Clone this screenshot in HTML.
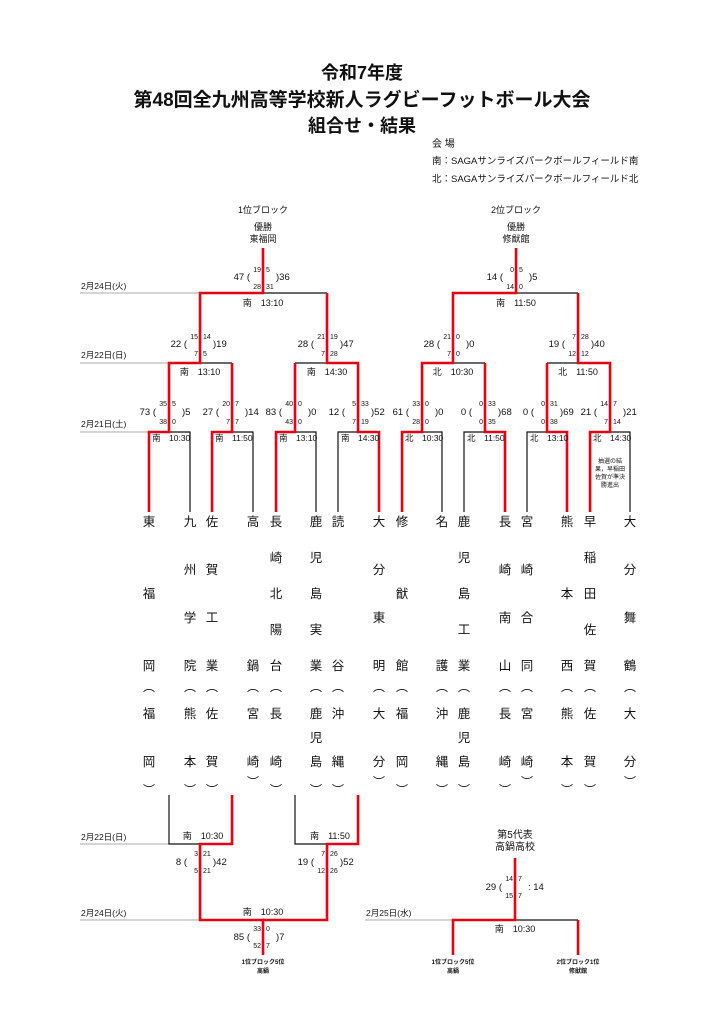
<!DOCTYPE html>
<html><head><meta charset="utf-8"><style>
body{margin:0;background:#fff;}
#p{position:relative;width:724px;height:1024px;overflow:hidden;font-family:"Liberation Sans","Noto Sans CJK JP",sans-serif;color:#111;}
svg{position:absolute;left:0;top:0;}
.c{position:absolute;width:20px;margin-left:-10px;display:flex;flex-direction:column;justify-content:space-between;align-items:center;font-size:12.5px;line-height:16px;}
.n{top:514px;height:160px;}
.pf{top:706px;height:64px;}
.o{position:absolute;width:20px;margin-left:-10px;text-align:center;font-size:12px;line-height:12px;}
</style></head><body><div id="p">
<svg width="724" height="1024" font-family="Liberation Sans, Noto Sans CJK JP, sans-serif">
<g font-weight="bold" text-anchor="middle" fill="#111">
<text x="362" y="79" font-size="18">令和7年度</text>
<text x="362" y="106" font-size="19">第48回全九州高等学校新人ラグビーフットボール大会</text>
<text x="362" y="132" font-size="18">組合せ・結果</text>
</g>
<g font-size="10" fill="#111">
<text x="432" y="147">会  場</text>
<text x="432" y="164" font-size="9.5">南：SAGAサンライズパークボールフィールド南</text>
<text x="432" y="182" font-size="9.5">北：SAGAサンライズパークボールフィールド北</text>
</g>
<g font-size="9" text-anchor="middle" fill="#111">
<text x="263" y="213">1位ブロック</text>
<text x="263" y="230">優勝</text><text x="263" y="242">東福岡</text>
<text x="516" y="213">2位ブロック</text>
<text x="516" y="230">優勝</text><text x="516" y="242">修猷館</text>
</g>
<!-- date lines -->
<g stroke="#aaa" stroke-width="1">
<line x1="80" y1="293" x2="200" y2="293"/>
<line x1="80" y1="363" x2="169" y2="363"/>
<line x1="80" y1="432" x2="149" y2="432"/>
<line x1="80" y1="844" x2="169" y2="844"/>
<line x1="80" y1="920" x2="200" y2="920"/>
<line x1="365" y1="920" x2="453" y2="920"/>
</g>
<g font-size="8.5" fill="#111">
<text x="81" y="289">2月24日(火)</text>
<text x="81" y="358">2月22日(日)</text>
<text x="81" y="427">2月21日(土)</text>
<text x="81" y="840">2月22日(日)</text>
<text x="81" y="916">2月24日(火)</text>
<text x="366" y="916">2月25日(水)</text>
</g>
<!-- black skeleton -->
<g stroke="#111" stroke-width="1.2" fill="none">
<path d="M149,512V432H190V512 M212,512V432H253V512 M276,512V432H316V512 M338,512V432H379V512"/>
<path d="M402,512V432H442V512 M464,512V432H505V512 M527,512V432H567V512 M590,512V432H630V512"/>
<path d="M169,363H232 M295,363H358 M422,363H485 M547,363H610 M200,293H327 M453,293H578"/>
<path d="M169,795V844H232 M295,795V844H358 M200,920H327 M453,920H578"/>
</g>
<!-- red winners -->
<g stroke="#e60012" stroke-width="2.6" fill="none">
<path d="M149,512V432H169V363H200V293H263V248"/>
<path d="M212,512V432H232V363"/>
<path d="M276,512V432H295V363"/>
<path d="M379,512V432H358V363H327V293"/>
<path d="M402,512V432H422V363H453V293H516V248"/>
<path d="M505,512V432H485V363"/>
<path d="M567,512V432H547V363"/>
<path d="M590,512V432H610V363H578V293"/>
<path d="M232,795V844H200V920H263V955"/>
<path d="M358,795V844H327V920H263"/>
<path d="M515,858V920H453V955 M578,920V955"/>
</g>
<!-- venue labels -->
<g font-size="9" fill="#111" text-anchor="middle">
<text x="263" y="306">南　13:10</text>
<text x="516" y="306">南　11:50</text>
<text x="200" y="375">南　13:10</text>
<text x="327" y="375">南　14:30</text>
<text x="453" y="375">北　10:30</text>
<text x="578" y="375">北　11:50</text>
<text x="203" y="839">南　10:30</text>
<text x="330" y="839">南　11:50</text>
<text x="263" y="915">南　10:30</text>
<text x="515" y="932">南　10:30</text>
</g>
<g font-size="8.5" fill="#111">
<text x="152" y="441">南　10:30</text>
<text x="215" y="441">南　11:50</text>
<text x="279" y="441">南　13:10</text>
<text x="341" y="441">南　14:30</text>
<text x="405" y="441">北　10:30</text>
<text x="467" y="441">北　11:50</text>
<text x="530" y="441">北　13:10</text>
<text x="593" y="441">北　14:30</text>
</g>
<g font-size="6" fill="#111" text-anchor="middle">
<text x="610" y="463">抽選の結</text><text x="610" y="471">果，早稲田</text><text x="610" y="479">佐賀が準決</text><text x="610" y="487">勝進出</text>
</g>
<!-- scores -->
<g fill="#111" font-size="9.5">
<g text-anchor="end">
<text x="156" y="415">73 (</text><text x="219" y="415">27 (</text><text x="282" y="415">83 (</text><text x="345" y="415">12 (</text>
<text x="409" y="415">61 (</text><text x="472" y="415">0 (</text><text x="534" y="415">0 (</text><text x="597" y="415">21 (</text>
<text x="187" y="347">22 (</text><text x="314" y="347">28 (</text><text x="440" y="347">28 (</text><text x="565" y="347">19 (</text>
<text x="250" y="280">47 (</text><text x="503" y="280">14 (</text>
<text x="187" y="865">8 (</text><text x="314" y="865">19 (</text><text x="250" y="940">85 (</text><text x="502" y="890">29 (</text>
</g>
<text x="182" y="415">)5</text><text x="245" y="415">)14</text><text x="308" y="415">)0</text><text x="371" y="415">)52</text>
<text x="435" y="415">)0</text><text x="498" y="415">)68</text><text x="560" y="415">)69</text><text x="623" y="415">)21</text>
<text x="213" y="347">)19</text><text x="340" y="347">)47</text><text x="466" y="347">)0</text><text x="591" y="347">)40</text>
<text x="276" y="280">)36</text><text x="529" y="280">)5</text>
<text x="213" y="865">)42</text><text x="340" y="865">)52</text><text x="276" y="940">)7</text><text x="528" y="890">: 14</text>
</g>
<g fill="#111" font-size="7">
<g text-anchor="end">
<text x="167" y="406">35</text><text x="167" y="424">38</text><text x="230" y="406">20</text><text x="230" y="424">7</text>
<text x="293" y="406">40</text><text x="293" y="424">43</text><text x="356" y="406">5</text><text x="356" y="424">7</text>
<text x="420" y="406">33</text><text x="420" y="424">28</text><text x="483" y="406">0</text><text x="483" y="424">0</text>
<text x="545" y="406">0</text><text x="545" y="424">0</text><text x="608" y="406">14</text><text x="608" y="424">7</text>
<text x="198" y="339">15</text><text x="198" y="356">7</text><text x="325" y="339">21</text><text x="325" y="356">7</text>
<text x="451" y="339">21</text><text x="451" y="356">7</text><text x="576" y="339">7</text><text x="576" y="356">12</text>
<text x="261" y="272">19</text><text x="261" y="289">28</text><text x="514" y="272">0</text><text x="514" y="289">14</text>
<text x="198" y="856">3</text><text x="198" y="873">5</text><text x="325" y="856">7</text><text x="325" y="873">12</text>
<text x="261" y="931">33</text><text x="261" y="948">52</text><text x="513" y="881">14</text><text x="513" y="898">15</text>
</g>
<text x="172" y="406">5</text><text x="172" y="424">0</text><text x="235" y="406">7</text><text x="235" y="424">7</text>
<text x="298" y="406">0</text><text x="298" y="424">0</text><text x="361" y="406">33</text><text x="361" y="424">19</text>
<text x="425" y="406">0</text><text x="425" y="424">0</text><text x="488" y="406">33</text><text x="488" y="424">35</text>
<text x="550" y="406">31</text><text x="550" y="424">38</text><text x="613" y="406">7</text><text x="613" y="424">14</text>
<text x="203" y="339">14</text><text x="203" y="356">5</text><text x="330" y="339">19</text><text x="330" y="356">28</text>
<text x="456" y="339">0</text><text x="456" y="356">0</text><text x="581" y="339">28</text><text x="581" y="356">12</text>
<text x="266" y="272">5</text><text x="266" y="289">31</text><text x="519" y="272">5</text><text x="519" y="289">0</text>
<text x="203" y="856">21</text><text x="203" y="873">21</text><text x="330" y="856">26</text><text x="330" y="873">26</text>
<text x="266" y="931">0</text><text x="266" y="948">7</text><text x="518" y="881">7</text><text x="518" y="898">7</text>
</g>
<g font-size="10" text-anchor="middle" fill="#111">
<text x="515" y="838">第5代表</text><text x="515" y="850">高鍋高校</text>
</g>
<g font-size="6" font-weight="bold" text-anchor="middle" fill="#111">
<text x="263" y="964">1位ブロック5位</text><text x="263" y="973">高鍋</text>
<text x="453" y="964">1位ブロック5位</text><text x="453" y="973">高鍋</text>
<text x="578" y="964">2位ブロック1位</text><text x="578" y="973">修猷館</text>
</g>
</svg>
<!-- team names -->
<div class="c n" style="left:149px"><span>東</span><span>福</span><span>岡</span></div>
<div class="c n" style="left:190px"><span>九</span><span>州</span><span>学</span><span>院</span></div>
<div class="c n" style="left:212px"><span>佐</span><span>賀</span><span>工</span><span>業</span></div>
<div class="c n" style="left:253px"><span>高</span><span>鍋</span></div>
<div class="c n" style="left:276px"><span>長</span><span>崎</span><span>北</span><span>陽</span><span>台</span></div>
<div class="c n" style="left:316px"><span>鹿</span><span>児</span><span>島</span><span>実</span><span>業</span></div>
<div class="c n" style="left:338px"><span>読</span><span>谷</span></div>
<div class="c n" style="left:379px"><span>大</span><span>分</span><span>東</span><span>明</span></div>
<div class="c n" style="left:402px"><span>修</span><span>猷</span><span>館</span></div>
<div class="c n" style="left:442px"><span>名</span><span>護</span></div>
<div class="c n" style="left:464px"><span>鹿</span><span>児</span><span>島</span><span>工</span><span>業</span></div>
<div class="c n" style="left:505px"><span>長</span><span>崎</span><span>南</span><span>山</span></div>
<div class="c n" style="left:527px"><span>宮</span><span>崎</span><span>合</span><span>同</span></div>
<div class="c n" style="left:567px"><span>熊</span><span>本</span><span>西</span></div>
<div class="c n" style="left:590px"><span>早</span><span>稲</span><span>田</span><span>佐</span><span>賀</span></div>
<div class="c n" style="left:630px"><span>大</span><span>分</span><span>舞</span><span>鶴</span></div>
<!-- prefectures -->
<div class="c pf" style="left:149px"><span>福</span><span>岡</span></div>
<div class="c pf" style="left:190px"><span>熊</span><span>本</span></div>
<div class="c pf" style="left:212px"><span>佐</span><span>賀</span></div>
<div class="c pf" style="left:253px"><span>宮</span><span>崎</span></div>
<div class="c pf" style="left:276px"><span>長</span><span>崎</span></div>
<div class="c pf" style="left:316px"><span>鹿</span><span>児</span><span>島</span></div>
<div class="c pf" style="left:338px"><span>沖</span><span>縄</span></div>
<div class="c pf" style="left:379px"><span>大</span><span>分</span></div>
<div class="c pf" style="left:402px"><span>福</span><span>岡</span></div>
<div class="c pf" style="left:442px"><span>沖</span><span>縄</span></div>
<div class="c pf" style="left:464px"><span>鹿</span><span>児</span><span>島</span></div>
<div class="c pf" style="left:505px"><span>長</span><span>崎</span></div>
<div class="c pf" style="left:527px"><span>宮</span><span>崎</span></div>
<div class="c pf" style="left:567px"><span>熊</span><span>本</span></div>
<div class="c pf" style="left:590px"><span>佐</span><span>賀</span></div>
<div class="c pf" style="left:630px"><span>大</span><span>分</span></div>
<!-- brackets -->
<div class="o" style="left:149px;top:681px">︵</div><div class="o" style="left:190px;top:681px">︵</div><div class="o" style="left:212px;top:681px">︵</div><div class="o" style="left:253px;top:681px">︵</div>
<div class="o" style="left:276px;top:681px">︵</div><div class="o" style="left:316px;top:681px">︵</div><div class="o" style="left:338px;top:681px">︵</div><div class="o" style="left:379px;top:681px">︵</div>
<div class="o" style="left:402px;top:681px">︵</div><div class="o" style="left:442px;top:681px">︵</div><div class="o" style="left:464px;top:681px">︵</div><div class="o" style="left:505px;top:681px">︵</div>
<div class="o" style="left:527px;top:681px">︵</div><div class="o" style="left:567px;top:681px">︵</div><div class="o" style="left:590px;top:681px">︵</div><div class="o" style="left:630px;top:681px">︵</div>
<div class="o" style="left:149px;top:784px">︶</div><div class="o" style="left:190px;top:784px">︶</div><div class="o" style="left:212px;top:784px">︶</div><div class="o" style="left:253px;top:776px">︶</div>
<div class="o" style="left:276px;top:784px">︶</div><div class="o" style="left:316px;top:784px">︶</div><div class="o" style="left:338px;top:784px">︶</div><div class="o" style="left:379px;top:776px">︶</div>
<div class="o" style="left:402px;top:784px">︶</div><div class="o" style="left:442px;top:784px">︶</div><div class="o" style="left:464px;top:784px">︶</div><div class="o" style="left:505px;top:784px">︶</div>
<div class="o" style="left:527px;top:776px">︶</div><div class="o" style="left:567px;top:784px">︶</div><div class="o" style="left:590px;top:784px">︶</div><div class="o" style="left:630px;top:776px">︶</div>
</div></body></html>
